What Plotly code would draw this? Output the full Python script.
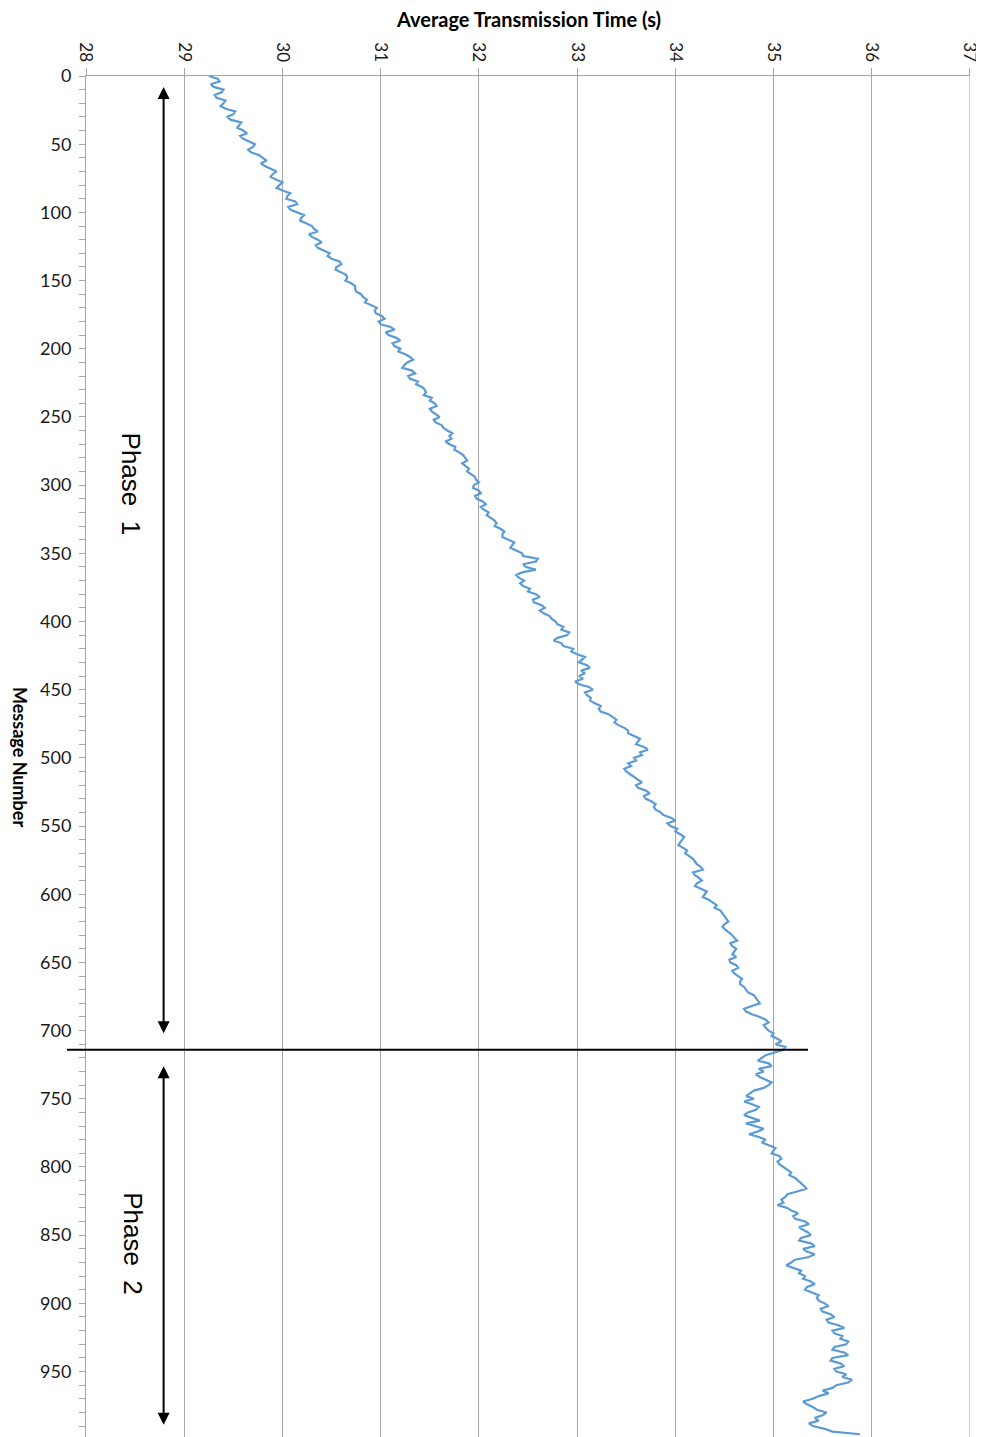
import plotly.graph_objects as go

# Message numbers (every 4 messages) and average transmission time (s)
messages = list(range(0, 1000, 4))
avg_time = [
    29.25, 29.36, 29.30, 29.38, 29.33, 29.40, 29.42, 29.50, 29.47, 29.56,
    29.60, 29.57, 29.66, 29.70, 29.68, 29.80, 29.78, 29.88, 29.90, 29.94,
    29.97, 30.00, 30.05, 30.13, 30.06, 30.15, 30.19, 30.24, 30.32, 30.27,
    30.36, 30.34, 30.42, 30.46, 30.58, 30.55, 30.60, 30.66, 30.70, 30.74,
    30.80, 30.86, 30.90, 30.94, 31.01, 30.98, 31.10, 31.05, 31.16, 31.12,
    31.20, 31.25, 31.33, 31.24, 31.32, 31.28, 31.38, 31.42, 31.46, 31.52,
    31.55, 31.50, 31.56, 31.54, 31.62, 31.68, 31.70, 31.66, 31.76, 31.80,
    31.86, 31.83, 31.90, 31.92, 31.97, 31.95, 32.00, 31.96, 32.04, 32.02,
    32.10, 32.12, 32.18, 32.22, 32.24, 32.30, 32.34, 32.38, 32.45, 32.58,
    32.48, 32.44, 32.41, 32.42, 32.52, 32.58, 32.55, 32.64, 32.62, 32.72,
    32.78, 32.86, 32.92, 32.80, 32.84, 32.96, 33.00, 33.05, 33.10, 33.04,
    33.02, 32.98, 33.12, 33.08, 33.14, 33.18, 33.22, 33.32, 33.40, 33.42,
    33.52, 33.58, 33.62, 33.68, 33.64, 33.58, 33.52, 33.48, 33.54, 33.62,
    33.60, 33.70, 33.68, 33.76, 33.78, 33.85, 33.96, 33.92, 34.02, 34.05,
    34.07, 34.03, 34.12, 34.14, 34.20, 34.26, 34.18, 34.24, 34.22, 34.26,
    34.30, 34.34, 34.42, 34.46, 34.50, 34.54, 34.48, 34.55, 34.60, 34.56,
    34.62, 34.58, 34.55, 34.62, 34.58, 34.64, 34.66, 34.70, 34.74, 34.82,
    34.86, 34.70, 34.78, 34.92, 34.90, 34.95, 34.98, 35.08, 35.12, 35.00,
    34.88, 34.95, 34.85, 34.82, 34.92, 34.95, 34.80, 34.72, 34.70, 34.85,
    34.74, 34.78, 34.72, 34.90, 34.75, 34.92, 34.96, 35.00, 35.06, 35.04,
    35.10, 35.18, 35.22, 35.28, 35.34, 35.14, 35.08, 35.04, 35.18, 35.20,
    35.32, 35.26, 35.35, 35.28, 35.38, 35.30, 35.42, 35.22, 35.13, 35.28,
    35.32, 35.38, 35.34, 35.40, 35.44, 35.52, 35.48, 35.58, 35.54, 35.66,
    35.60, 35.70, 35.76, 35.62, 35.72, 35.60, 35.68, 35.62, 35.74, 35.80,
    35.64, 35.50, 35.46, 35.30, 35.40, 35.54, 35.42, 35.36, 35.52, 35.88,
]

# In-between messages (2, 6, 10, ...)
messages_mid = list(range(2, 996, 4))
avg_time_mid = [
    29.34, 29.27, 29.40, 29.31, 29.42, 29.37, 29.52, 29.44, 29.58, 29.54,
    29.64, 29.60, 29.72, 29.65, 29.76, 29.84, 29.82, 29.94, 29.88, 30.00,
    29.94, 30.08, 30.04, 30.15, 30.08, 30.22, 30.18, 30.30, 30.36, 30.30,
    30.40, 30.36, 30.48, 30.50, 30.60, 30.54, 30.65, 30.64, 30.74, 30.75,
    30.82, 30.84, 30.96, 30.95, 31.04, 31.00, 31.14, 31.08, 31.20, 31.14,
    31.18, 31.30, 31.27, 31.22, 31.35, 31.30, 31.36, 31.45, 31.44, 31.50,
    31.57, 31.52, 31.60, 31.56, 31.64, 31.73, 31.72, 31.70, 31.75, 31.84,
    31.88, 31.86, 31.88, 31.96, 32.00, 31.94, 32.02, 31.98, 32.07, 32.05,
    32.08, 32.16, 32.16, 32.26, 32.24, 32.36, 32.32, 32.44, 32.60, 32.45,
    32.58, 32.38, 32.46, 32.45, 32.50, 32.62, 32.56, 32.67, 32.66, 32.74,
    32.80, 32.84, 32.90, 32.76, 32.86, 32.94, 33.08, 33.02, 33.13, 33.08,
    33.06, 33.02, 33.16, 33.10, 33.13, 33.24, 33.24, 33.36, 33.38, 33.48,
    33.52, 33.64, 33.60, 33.72, 33.66, 33.60, 33.55, 33.50, 33.58, 33.66,
    33.62, 33.74, 33.70, 33.80, 33.80, 33.88, 34.00, 33.95, 34.00, 34.09,
    34.05, 34.08, 34.10, 34.18, 34.22, 34.28, 34.20, 34.27, 34.20, 34.32,
    34.28, 34.38, 34.40, 34.48, 34.52, 34.50, 34.51, 34.58, 34.63, 34.58,
    34.60, 34.62, 34.56, 34.64, 34.60, 34.68, 34.66, 34.72, 34.80, 34.84,
    34.78, 34.72, 34.86, 34.95, 34.92, 35.00, 35.04, 35.02, 35.10, 34.92,
    34.84, 34.98, 34.90, 34.86, 34.98, 34.90, 34.76, 34.80, 34.78, 34.82,
    34.70, 34.86, 34.80, 34.84, 34.85, 34.88, 35.02, 34.98, 35.08, 35.06,
    35.14, 35.16, 35.25, 35.30, 35.24, 35.12, 35.10, 35.14, 35.25, 35.22,
    35.36, 35.30, 35.38, 35.26, 35.42, 35.34, 35.36, 35.18, 35.20, 35.26,
    35.30, 35.42, 35.32, 35.46, 35.46, 35.56, 35.50, 35.62, 35.56, 35.72,
    35.62, 35.68, 35.74, 35.60, 35.76, 35.58, 35.72, 35.64, 35.70, 35.76,
    35.60, 35.56, 35.40, 35.34, 35.44, 35.50, 35.46, 35.40, 35.60,
]

x_ticks = [28, 29, 30, 31, 32, 33, 34, 35, 36, 37]
y_ticks = list(range(0, 1000, 50))

phase_boundary = 714
phase1_span = (7, 702)
phase2_span = (725, 989)
arrow_x = 28.79
phase_labels = ["Phase  1", "Phase  2"]
phase_label_pos = [(28.46, 299), (28.47, 856)]

# merge both readings into one ordered series
pairs = sorted(zip(messages + messages_mid, avg_time + avg_time_mid))
msg_all = [p[0] for p in pairs]
val_all = [p[1] for p in pairs]

FONT = "Lato, 'Open Sans', sans-serif"
GRID = "#A6A6A6"

fig = go.Figure()
fig.add_trace(go.Scatter(
    x=val_all, y=msg_all, mode="lines",
    line=dict(color="#5B9BD5", width=2.2),
    showlegend=False, hoverinfo="skip",
))

# page body has an 8px margin: plot area spans x 86..970, y 76..1437
fig.update_layout(
    width=976, height=1429,
    margin=dict(l=78, r=14, t=68, b=0),
    paper_bgcolor="white", plot_bgcolor="white",
    font=dict(family=FONT, color="#1a1a1a"),
    xaxis=dict(
        side="top", range=[27.9999, 37.0001], tickvals=x_ticks, tickangle=90,
        showgrid=True, gridcolor=GRID, gridwidth=1,
        showline=True, linecolor=GRID, linewidth=1,
        ticks="outside", ticklen=7, tickcolor=GRID,
        tickfont=dict(size=17, family=FONT, color="#1a1a1a"),
        ticklabeloverflow="allow",
        zeroline=False,
    ),
    yaxis=dict(
        range=[998, 0], tickvals=y_ticks,
        showgrid=False, showline=True, linecolor=GRID, linewidth=1,
        ticks="outside", ticklen=6, tickcolor=GRID,
        minor=dict(dtick=10, ticks="outside", ticklen=6, tickcolor=GRID, showgrid=False),
        tickfont=dict(size=18, family=FONT, color="#1a1a1a"),
        ticklabelstandoff=4,
        zeroline=False,
    ),
)

anns = [
    dict(text="<b>Average Transmission Time (s)</b>", xref="paper", yref="paper",
         x=0.5, y=1 + (76 - 19) / 1361, xanchor="center", yanchor="middle",
         showarrow=False, font=dict(size=20, family=FONT, color="#000")),
    dict(text="<b>Message Number</b>", xref="paper", yref="paper",
         x=(20 - 86) / 884, y=1 - (757 - 76) / 1361, xanchor="center", yanchor="middle",
         textangle=90, showarrow=False, font=dict(size=18, family=FONT, color="#000")),
]
for lab, (lx, ly) in zip(phase_labels, phase_label_pos):
    anns.append(dict(text=lab, x=lx, y=ly, xref="x", yref="y", textangle=90,
                     showarrow=False, xanchor="center", yanchor="middle",
                     font=dict(size=26, family="Liberation Sans, Arial, sans-serif", color="#000")))
for (a, b) in [phase1_span, phase2_span]:
    anns.append(dict(text="", x=arrow_x, y=b, ax=arrow_x, ay=a,
                     xref="x", yref="y", axref="x", ayref="y",
                     showarrow=True, arrowhead=2, arrowside="end+start",
                     arrowsize=1.2, arrowwidth=2, arrowcolor="#000"))
fig.update_layout(annotations=anns)

# right-edge gridline at the last tick (plotly drops it at the plot edge)
fig.add_shape(type="line", xref="x", yref="paper",
              x0=x_ticks[-1], x1=x_ticks[-1], y0=0, y1=1,
              line=dict(color=GRID, width=1), layer="below")

fig.add_shape(type="line", xref="paper", yref="y",
              x0=(67 - 86) / 884, x1=(808 - 86) / 884,
              y0=phase_boundary, y1=phase_boundary,
              line=dict(color="#000", width=2))

fig.write_html("out.html")
